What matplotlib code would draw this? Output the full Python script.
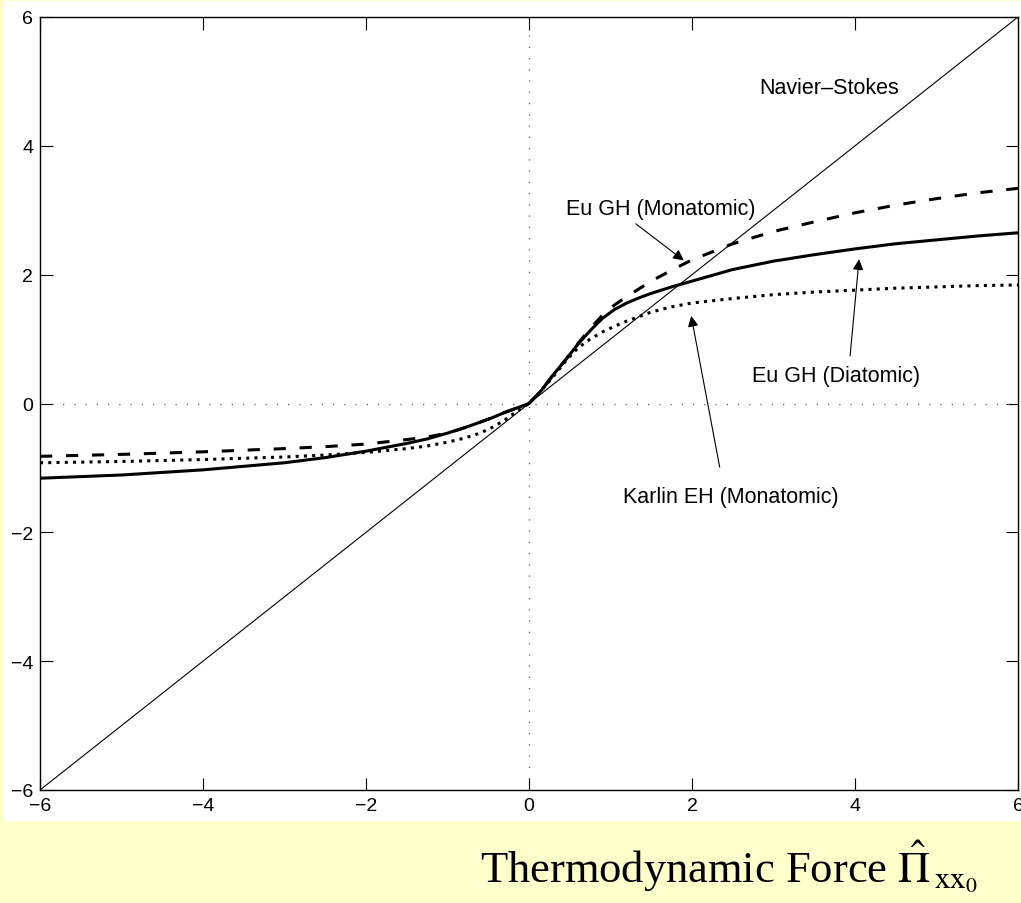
import numpy as np
import matplotlib
matplotlib.use("Agg")
import matplotlib.pyplot as plt
from matplotlib.patches import Rectangle

# Thermodynamic force vs. normalized stress for the different constitutive models
x_ns = [-6, 6]
y_ns = [-6, 6]

x_pts = [-6, -5, -4, -3, -2.5, -2, -1.5, -1.25, -1, -0.8, -0.6, -0.45, -0.3,
         -0.15, 0, 0.15, 0.3, 0.45, 0.6, 0.75, 0.9, 1.05, 1.2, 1.35, 1.5,
         1.75, 2, 2.5, 3, 3.5, 4, 4.5, 5, 5.5, 6]
eu_mono = [-0.82, -0.79, -0.75, -0.70, -0.67, -0.63, -0.56, -0.52, -0.46,
           -0.38, -0.29, -0.22, -0.14, -0.07, 0, 0.20, 0.45, 0.68, 0.93,
           1.16, 1.37, 1.53, 1.66, 1.78, 1.90, 2.07, 2.23, 2.48, 2.67, 2.82,
           2.96, 3.08, 3.18, 3.27, 3.34]
eu_di = [-1.16, -1.11, -1.03, -0.92, -0.84, -0.74, -0.62, -0.55, -0.46,
         -0.38, -0.29, -0.22, -0.14, -0.07, 0, 0.20, 0.45, 0.68, 0.92, 1.13,
         1.32, 1.46, 1.56, 1.64, 1.71, 1.81, 1.90, 2.08, 2.21, 2.31, 2.40,
         2.48, 2.54, 2.60, 2.65]
karlin = [-0.92, -0.90, -0.87, -0.83, -0.80, -0.76, -0.70, -0.66, -0.60,
          -0.54, -0.46, -0.37, -0.26, -0.12, 0, 0.20, 0.42, 0.66, 0.86, 1.00,
          1.11, 1.20, 1.28, 1.35, 1.42, 1.50, 1.56, 1.63, 1.69, 1.73, 1.76,
          1.79, 1.81, 1.83, 1.84]

ticks = [-6, -4, -2, 0, 2, 4, 6]

plt.rcParams["font.family"] = ["Liberation Sans", "DejaVu Sans"]
plt.rcParams["mathtext.fontset"] = "stix"

W, H = 1021, 904
fig = plt.figure(figsize=(W / 100, H / 100), dpi=100, facecolor="#ffffcc")
fig.patches.append(Rectangle((4 / W, (H - 822) / H), 1 - 4 / W, 820 / H,
                             transform=fig.transFigure, facecolor="white",
                             edgecolor="none", zorder=-5))
ax = fig.add_axes([40 / W, (H - 791) / H, 978 / W, 773 / H])
ax.set_zorder(1)

ax.axhline(0, color="0.35", lw=0.9, ls=(0, (1, 8)))
ax.axvline(0, color="0.35", lw=0.9, ls=(0, (1, 8)))

ax.plot(x_ns, y_ns, color="k", lw=0.8)
ax.plot(x_pts, eu_mono, color="k", lw=2.2, ls=(0, (4, 4.5)))
ax.plot(x_pts, eu_di, color="k", lw=2.2)
ax.plot(x_pts, karlin, color="k", lw=2.2, ls=(0, (1, 1.7)))

arrow = dict(arrowstyle="-|>", color="k", lw=0.8, mutation_scale=16,
             shrinkA=0, shrinkB=0)
tfs = 15.5
ax.text(2.83, 4.91, "Navier\u2013Stokes", fontsize=tfs, va="center")
ax.text(0.45, 3.02, "Eu GH (Monatomic)", fontsize=tfs, va="center")
ax.annotate("", xy=(1.90, 2.22), xytext=(1.31, 2.79), arrowprops=arrow)
ax.text(2.74, 0.43, "Eu GH (Diatomic)", fontsize=tfs, va="center")
ax.annotate("", xy=(4.05, 2.24), xytext=(3.94, 0.74), arrowprops=arrow)
ax.text(1.15, -1.45, "Karlin EH (Monatomic)", fontsize=tfs, va="center")
ax.annotate("", xy=(1.99, 1.36), xytext=(2.34, -0.99), arrowprops=arrow)

ax.set_xlim(-6, 6)
ax.set_ylim(-6, 6)
ax.set_xticks(ticks)
ax.set_yticks(ticks)
ax.tick_params(direction="in", length=9, width=0.8, labelsize=14,
               top=True, right=True, pad=5)
for s in ax.spines.values():
    s.set_linewidth(1.0)

fig.text(480 / W, (H - 882) / H,
         r"Thermodynamic Force $\hat{\Pi}_{\,\mathrm{xx}_0}$",
         fontsize=32, family="Liberation Serif", ha="left", va="baseline")

fig.savefig("out.png", dpi=100, facecolor=fig.get_facecolor())
